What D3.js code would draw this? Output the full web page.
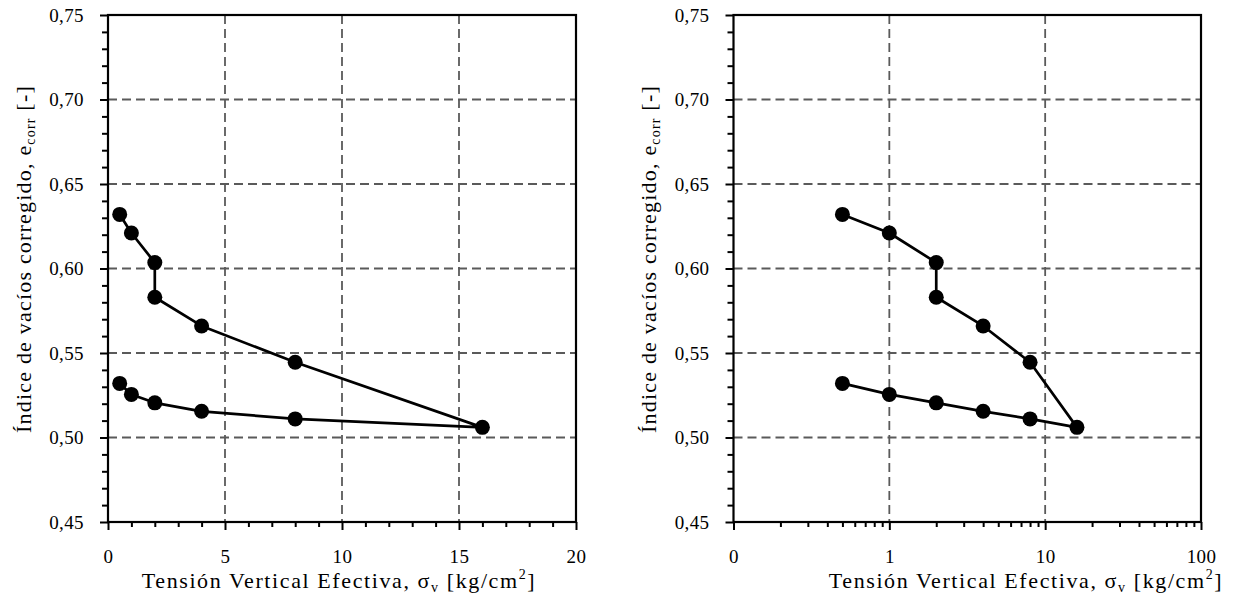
<!DOCTYPE html>
<html>
<head>
<meta charset="utf-8">
<script src="https://cdn.jsdelivr.net/npm/d3@7"></script>
<style>
  html, body { margin: 0; padding: 0; background: #fff; }
  svg { display: block; }
</style>
</head>
<body>
<svg id="chart" width="1239" height="599"></svg>
<script>
// ---- data ----
const stress = [0.5, 1, 2, 2, 4, 8, 16, 8, 4, 2, 1, 0.5];
const voidRatio = [0.632, 0.621, 0.6035, 0.583, 0.566, 0.5445, 0.506, 0.511, 0.5155, 0.5205, 0.5255, 0.532];
const yTicks = [0.45, 0.50, 0.55, 0.60, 0.65, 0.70, 0.75];
const yTickLabels = ["0,45", "0,50", "0,55", "0,60", "0,65", "0,70", "0,75"];
const xTicksLin = [0, 5, 10, 15, 20];
const xTickLabelsLin = ["0", "5", "10", "15", "20"];
const xTicksLog = [0.1, 1, 10, 100];
const xTickLabelsLog = ["0", "1", "10", "100"];

const FONT = "'Liberation Serif'";
const points = stress.map((s, i) => ({ x: s, y: voidRatio[i] }));
const svg = d3.select("#chart");

function setFont(sel, size, spacing) {
  sel.attr("font-family", "Liberation Serif").style("font-family", FONT)
     .attr("font-size", size).style("font-size", size + "px")
     .style("letter-spacing", (spacing || 0) + "px").attr("fill", "#000");
}

function panel(opts) {
  const { left, right, top, bottom, xScaleType } = opts;
  const y = d3.scaleLinear().domain([0.45, 0.75]).range([bottom, top]);
  let x, xMajor, xMinor, xLabels;
  if (xScaleType === "log") {
    x = d3.scaleLog().domain([0.1, 100]).range([left, right]);
    xMajor = xTicksLog; xLabels = xTickLabelsLog;
    xMinor = [];
    [0.1, 1, 10].forEach(d => { for (let k = 2; k <= 9; k++) xMinor.push(d * k); });
  } else {
    x = d3.scaleLinear().domain([0, 20]).range([left, right]);
    xMajor = xTicksLin; xLabels = xTickLabelsLin;
    xMinor = d3.range(0, 21, 1).filter(v => v % 5 !== 0);
  }
  const yMinor = d3.range(45, 76, 1).filter(v => v % 5 !== 0).map(v => v / 100);

  const g = svg.append("g");

  // grid
  const grid = g.append("g").attr("stroke", "#5a5a5a").attr("stroke-width", 1.8).attr("stroke-dasharray", "9,5");
  xMajor.slice(1, -1).forEach(v => {
    grid.append("line").attr("x1", x(v)).attr("x2", x(v)).attr("y1", top).attr("y2", bottom);
  });
  yTicks.slice(1, -1).forEach(v => {
    grid.append("line").attr("x1", left).attr("x2", right).attr("y1", y(v)).attr("y2", y(v));
  });

  // axes (ticks outward)
  const xAxis = d3.axisBottom(x).tickValues(xMajor).tickSize(8).tickFormat((d, i) => xLabels[i]);
  const xAxisMinor = d3.axisBottom(x).tickValues(xMinor).tickSize(5).tickFormat("");
  const yAxis = d3.axisLeft(y).tickValues(yTicks).tickSize(8).tickFormat((d, i) => yTickLabels[i]);
  const yAxisMinor = d3.axisLeft(y).tickValues(yMinor).tickSize(6).tickFormat("");

  [xAxis, xAxisMinor].forEach(ax => {
    const a = g.append("g").attr("transform", `translate(0,${bottom})`).call(ax);
    a.attr("font-family", null).attr("font-size", null);
    a.select(".domain").remove();
    a.selectAll(".tick line").attr("stroke", "#000").attr("stroke-width", 2);
    setFont(a.selectAll(".tick text").attr("dy", 0).attr("y", 41), 19, 0.4);
  });
  [yAxis, yAxisMinor].forEach(ax => {
    const a = g.append("g").attr("transform", `translate(${left},0)`).call(ax);
    a.attr("font-family", null).attr("font-size", null);
    a.select(".domain").remove();
    a.selectAll(".tick line").attr("stroke", "#000").attr("stroke-width", 2);
    setFont(a.selectAll(".tick text").attr("x", -24).attr("dy", "0.33em"), 19, 0.4);
  });

  // frame
  g.append("rect").attr("x", left).attr("y", top).attr("width", right - left).attr("height", bottom - top)
    .attr("fill", "none").attr("stroke", "#000").attr("stroke-width", 2.2);

  // data line
  const line = d3.line().x(d => x(d.x)).y(d => y(d.y));
  g.append("path").datum(points).attr("d", line).attr("fill", "none")
    .attr("stroke", "#000").attr("stroke-width", 2.7).attr("stroke-linejoin", "round");
  g.append("g").selectAll("circle").data(points).join("circle")
    .attr("cx", d => x(d.x)).attr("cy", d => y(d.y)).attr("r", 7.5).attr("fill", "#000");

  // x label
  const xl = g.append("text").attr("x", opts.xLabelX).attr("y", opts.xLabelY).attr("text-anchor", "middle");
  setFont(xl, 22, 1.6);
  xl.append("tspan").text("Tensión Vertical Efectiva, σ");
  xl.append("tspan").style("font-size", "14px").attr("dy", 4).text("v");
  xl.append("tspan").attr("dy", -4).text(" [kg/cm");
  xl.append("tspan").style("font-size", "14px").attr("dy", -9).text("2");
  xl.append("tspan").attr("dy", 9).text("]");

  // y label
  const yl = g.append("text").attr("transform", `translate(${opts.yLabelX},${opts.yLabelY}) rotate(-90)`)
    .attr("text-anchor", "middle");
  setFont(yl, 22, 1.2);
  yl.append("tspan").text("Índice de vacíos corregido, e");
  yl.append("tspan").style("font-size", "14px").attr("dy", 4).text("corr");
  yl.append("tspan").attr("dy", -4).text(" [-]");
}

panel({ left: 108, right: 576, top: 15, bottom: 522, xScaleType: "linear",
        xLabelX: 339, xLabelY: 588, yLabelX: 31, yLabelY: 259 });
panel({ left: 733.5, right: 1201, top: 15, bottom: 522, xScaleType: "log",
        xLabelX: 1026, xLabelY: 588, yLabelX: 656, yLabelY: 259 });
</script>
</body>
</html>
